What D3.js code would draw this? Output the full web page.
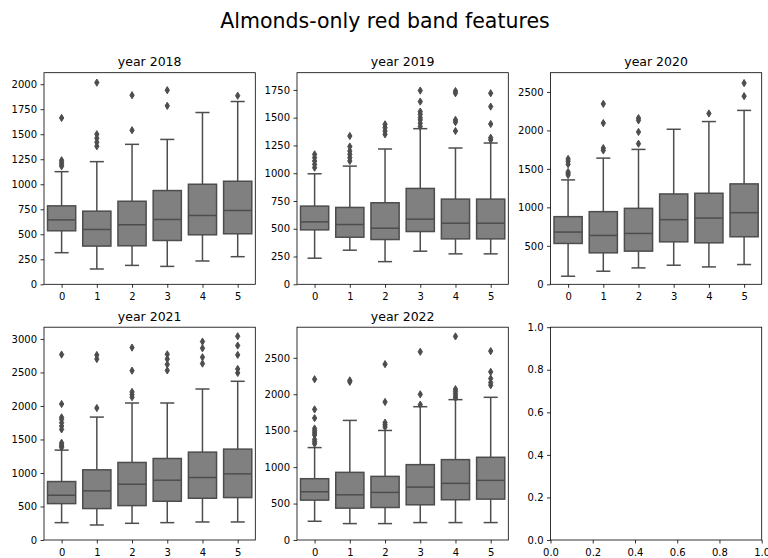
<!DOCTYPE html>
<html><head><meta charset="utf-8">
<script src="https://cdn.jsdelivr.net/npm/d3@7"></script>
<style>
html,body{margin:0;padding:0;background:#fff;}
svg{display:block;font-family:"DejaVu Sans",sans-serif;}
</style></head>
<body>
<svg id="chart" width="768" height="558"></svg>
<script>
// ---------------- DATA ----------------
const chartTitle = "Almonds-only red band features";
const years = ["2018", "2019", "2020", "2021", "2022"];
const categories = [0, 1, 2, 3, 4, 5];

// per year (rows) x per category (cols)
const whiskerLow = [
  [316, 153, 189, 179, 233, 276],
  [235, 307, 204, 298, 274, 274],
  [105, 170, 213, 248, 226, 257],
  [259, 224, 249, 259, 269, 269],
  [257, 225, 225, 239, 239, 239]
];
const quartile1 = [
  [535, 382, 385, 438, 495, 505],
  [490, 424, 403, 475, 409, 409],
  [531, 409, 431, 552, 539, 618],
  [543, 469, 513, 578, 623, 633],
  [547, 437, 446, 483, 552, 561]
];
const medians = [
  [644, 548, 595, 648, 688, 738],
  [562, 538, 505, 586, 550, 550],
  [679, 635, 661, 840, 861, 931],
  [668, 733, 832, 892, 932, 987],
  [662, 620, 653, 726, 777, 818]
];
const quartile3 = [
  [784, 731, 830, 937, 1000, 1030],
  [704, 692, 734, 863, 767, 767],
  [879, 944, 987, 1174, 1183, 1305],
  [872, 1047, 1157, 1216, 1311, 1356],
  [841, 928, 873, 1034, 1103, 1135]
];
const whiskerHigh = [
  [1126, 1226, 1399, 1448, 1717, 1827],
  [995, 1064, 1218, 1401, 1227, 1272],
  [1357, 1640, 1753, 2015, 2115, 2260],
  [1341, 1834, 2044, 2044, 2253, 2368],
  [1268, 1641, 1503, 1829, 1926, 1958]
];
const outliers = [
  [[1180, 1200, 1220, 1240, 1663], [1380, 1420, 1460, 1500, 2016], [1540, 1890], [1784, 1940], [], [1885]],
  [[1050, 1080, 1110, 1140, 1170], [1110, 1140, 1170, 1200, 1240, 1335], [1350, 1380, 1410, 1440],
   [1420, 1450, 1480, 1500, 1530, 1555, 1645, 1744], [1380, 1460, 1480, 1720, 1740], [1300, 1320, 1443, 1600, 1720]],
  [[1420, 1440, 1460, 1560, 1600, 1630], [1740, 1770, 2095, 2345], [1827, 1980, 2130, 2160], [], [2220], [2445, 2615]],
  [[1380, 1400, 1420, 1450, 1650, 1700, 1750, 1800, 1830, 2029, 2767], [1969, 2700, 2760], [2130, 2170, 2210, 2527, 2871],
   [2530, 2620, 2700, 2770], [2632, 2727, 2861, 2960], [2493, 2552, 2762, 2901, 3040]],
  [[1320, 1350, 1380, 1440, 1470, 1500, 1530, 1673, 1792, 2206], [2170, 2190], [1550, 1580, 1610, 1894, 2413],
   [1857, 1999, 2583], [1950, 1980, 2010, 2040, 2070, 2794], [2123, 2160, 2215, 2307, 2592]]
];
const yMax = [2115, 1905, 2750, 3175, 2920];
const yTicks = [
  [0, 250, 500, 750, 1000, 1250, 1500, 1750, 2000],
  [0, 250, 500, 750, 1000, 1250, 1500, 1750],
  [0, 500, 1000, 1500, 2000, 2500],
  [0, 500, 1000, 1500, 2000, 2500, 3000],
  [0, 500, 1000, 1500, 2000, 2500]
];
const emptyTicks = [0.0, 0.2, 0.4, 0.6, 0.8, 1.0];

// ---------------- LAYOUT ----------------
const colX = [[44, 255.3], [297, 508.3], [550.5, 761.7]];
const rowY = [[72.7, 284.3], [327.2, 540]];
const boxColor = "#808080", lineColor = "#4d4d4d";

const svg = d3.select("#chart");

svg.append("text")
  .attr("x", 385).attr("y", 28)
  .attr("text-anchor", "middle")
  .attr("font-size", "20.5px")
  .attr("fill", "#000")
  .text(chartTitle);

function styleAxis(g) {
  g.selectAll("path.domain").remove();
  g.selectAll(".tick line").attr("stroke", "#000").attr("stroke-width", 0.8);
  g.selectAll(".tick text").attr("font-size", "10px").attr("fill", "#000")
    .attr("font-family", "DejaVu Sans, sans-serif");
}

function frame(g, x0, x1, y0, y1) {
  g.append("rect").attr("x", x0).attr("y", y0)
    .attr("width", x1 - x0).attr("height", y1 - y0)
    .attr("fill", "none").attr("stroke", "#000").attr("stroke-width", 0.8);
}

const diamond = "M0,-3.6L2.15,0L0,3.6L-2.15,0Z";

years.forEach((yr, i) => {
  const [x0, x1] = colX[i % 3];
  const [y0, y1] = rowY[Math.floor(i / 3)];
  const g = svg.append("g");

  const x = d3.scaleLinear().domain([-0.5, categories.length - 0.5]).range([x0, x1]);
  const y = d3.scaleLinear().domain([0, yMax[i]]).range([y1, y0]);
  const bw = (x(0.8) - x(0));
  const cw = bw / 2;

  categories.forEach((c, j) => {
    const cx = x(c);
    const lo = whiskerLow[i][j], q1 = quartile1[i][j], md = medians[i][j],
          q3 = quartile3[i][j], hi = whiskerHigh[i][j];
    const bg = g.append("g");
    bg.append("line").attr("x1", cx).attr("x2", cx).attr("y1", y(q1)).attr("y2", y(lo))
      .attr("stroke", lineColor).attr("stroke-width", 1.5);
    bg.append("line").attr("x1", cx).attr("x2", cx).attr("y1", y(q3)).attr("y2", y(hi))
      .attr("stroke", lineColor).attr("stroke-width", 1.5);
    [lo, hi].forEach(v => {
      bg.append("line").attr("x1", cx - cw / 2).attr("x2", cx + cw / 2)
        .attr("y1", y(v)).attr("y2", y(v))
        .attr("stroke", lineColor).attr("stroke-width", 1.5);
    });
    bg.append("rect").attr("x", cx - bw / 2).attr("y", y(q3))
      .attr("width", bw).attr("height", y(q1) - y(q3))
      .attr("fill", boxColor).attr("stroke", lineColor).attr("stroke-width", 1.5);
    bg.append("line").attr("x1", cx - bw / 2).attr("x2", cx + bw / 2)
      .attr("y1", y(md)).attr("y2", y(md))
      .attr("stroke", lineColor).attr("stroke-width", 1.5);
    bg.selectAll("path.fl").data(outliers[i][j]).enter().append("path")
      .attr("class", "fl")
      .attr("d", diamond)
      .attr("transform", v => `translate(${cx},${y(v)})`)
      .attr("fill", lineColor).attr("stroke", lineColor).attr("stroke-width", 1);
  });

  frame(g, x0, x1, y0, y1);

  const ya = g.append("g").attr("transform", `translate(${x0},0)`)
    .call(d3.axisLeft(y).tickValues(yTicks[i]).tickFormat(d3.format("d")).tickSize(3.5).tickPadding(3.5));
  styleAxis(ya);
  const xa = g.append("g").attr("transform", `translate(0,${y1})`)
    .call(d3.axisBottom(x).tickValues(categories).tickFormat(d3.format("d")).tickSize(3.5).tickPadding(3.5));
  styleAxis(xa);
  xa.selectAll(".tick text").attr("dy", "0.9em");

  g.append("text").attr("x", (x0 + x1) / 2).attr("y", y0 - 6.5)
    .attr("text-anchor", "middle").attr("font-size", "12.5px").attr("fill", "#000")
    .text("year " + yr);
});

// empty sixth axes
{
  const [x0, x1] = colX[2];
  const [y0, y1] = rowY[1];
  const g = svg.append("g");
  const x = d3.scaleLinear().domain([0, 1]).range([x0, x1]);
  const y = d3.scaleLinear().domain([0, 1]).range([y1, y0]);
  frame(g, x0, x1, y0, y1);
  const ya = g.append("g").attr("transform", `translate(${x0},0)`)
    .call(d3.axisLeft(y).tickValues(emptyTicks).tickFormat(d3.format(".1f")).tickSize(3.5).tickPadding(3.5));
  styleAxis(ya);
  const xa = g.append("g").attr("transform", `translate(0,${y1})`)
    .call(d3.axisBottom(x).tickValues(emptyTicks).tickFormat(d3.format(".1f")).tickSize(3.5).tickPadding(3.5));
  styleAxis(xa);
  xa.selectAll(".tick text").attr("dy", "0.9em");
}
</script>
</body></html>
